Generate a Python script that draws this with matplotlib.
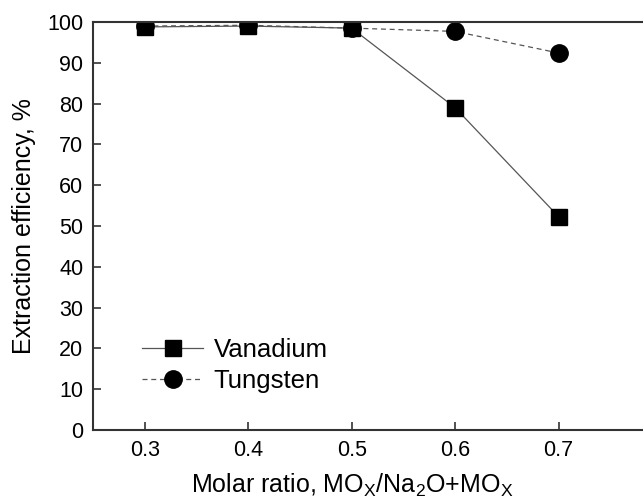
import matplotlib
matplotlib.use('Agg')
from matplotlib import pyplot as plt

plt.rcParams['font.family'] = ['Liberation Sans', 'DejaVu Sans']

ratio = [0.3, 0.4, 0.5, 0.6, 0.7]
vanadium = [98.8, 99.0, 98.5, 79.0, 52.3]
tungsten = [99.0, 99.2, 98.5, 97.7, 92.4]

fig = plt.figure(figsize=(6.43, 5.0), dpi=100)
# right part of the frame runs past the edge of the picture
ax = fig.add_axes([93/643, 70/500, 569/643, 408/500])

ax.plot(ratio, vanadium, '-', color='#555555', lw=0.9, marker='s', ms=11,
        mfc='black', mec='black', label='Vanadium')
ax.plot(ratio, tungsten, '--', color='#555555', lw=0.9, dashes=(4, 3), marker='o', ms=12.5,
        mfc='black', mec='black', label='Tungsten')

ax.set_xlim(0.25, 0.8)
ax.set_ylim(0, 100)
ax.set_xticks([0.3, 0.4, 0.5, 0.6, 0.7])
ax.set_yticks(range(0, 101, 10))
ax.tick_params(direction='in', length=6, width=1.2, colors='#333333', labelsize=15.5,
               labelcolor='black', pad=7)
for s in ax.spines.values():
    s.set_linewidth(1.5)
    s.set_color('#333333')

ax.set_xlabel('Molar ratio, MO$_\\mathregular{X}$/Na$_\\mathregular{2}$O+MO$_\\mathregular{X}$',
              fontsize=18)
ax.xaxis.set_label_coords(0.455, -0.102, transform=ax.transAxes)
ax.xaxis.label.set_va('top')
ax.set_ylabel('Extraction efficiency, %', fontsize=18, labelpad=8)

ax.legend(loc='lower left', bbox_to_anchor=(0.045, 0.035), frameon=False, fontsize=18.5,
          handlelength=2.4, handletextpad=0.4, labelspacing=0.25)

fig.savefig('out.png', dpi=100)
